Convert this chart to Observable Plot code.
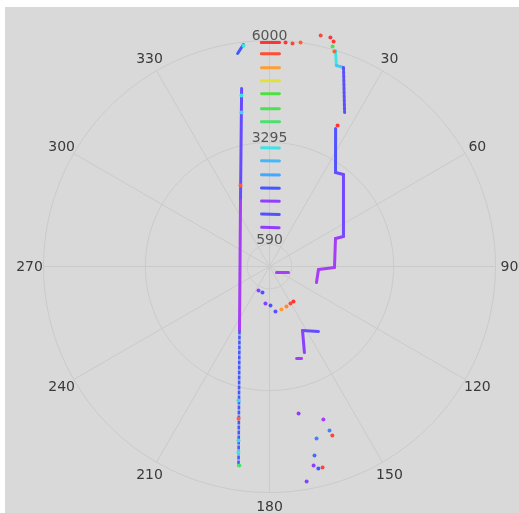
<!DOCTYPE html>
<html><head><meta charset="utf-8">
<script src="https://cdn.jsdelivr.net/npm/d3@7"></script>
<script src="https://cdn.jsdelivr.net/npm/@observablehq/plot@0.6"></script>
<style>
html,body{margin:0;padding:0;background:#fff;}
#chart{position:absolute;left:5px;top:7px;width:514px;height:506px;background:#d9d9d9;overflow:hidden}
#chart svg{filter:blur(0.45px)}
</style></head><body><div id="chart"></div>
<script>
// ---- data: bearing (deg, clockwise from north), range (mm), tone (0 = red ... 1 = violet)
const ringTicks = [590, 3295, 6000];
const angleTicks = [30, 60, 90, 120, 150, 180, 210, 240, 270, 300, 330];

// straight-ahead short returns
const stripeRange = [5950, 5655, 5283, 4938, 4593, 4195, 3850, 3159, 2814, 2443, 2097, 1752, 1407, 1062];
const stripeFrom  = [357.9, 357.8, 357.7, 357.5, 357.4, 357.1, 356.8, 356.2, 355.7, 355.0, 354.2, 353.1, 351.4, 348.7];
const stripeTo    = [2.6, 2.7, 2.9, 3.1, 3.3, 3.6, 4.0, 4.8, 5.4, 6.2, 7.2, 8.6, 10.7, 14.0];
const stripeTone  = [0.0, 0.03, 0.13, 0.26, 0.40, 0.42, 0.45, 0.58, 0.64, 0.66, 0.78, 0.92, 0.80, 0.92];

// left wall polyline
const wallBearing = [351.1, 336.3, 205.1, 188.8];
const wallRange   = [4784, 1914, 1877, 5374];
const wallTone    = [0.84, 0.97, 0.78];

// right stepped wall polyline
const stepBearing = [25.6, 35.1, 38.8, 67.9, 67.0, 90.9, 93.5, 108.8];
const stepRange   = [4062, 3050, 3135, 2120, 1904, 1726, 1303, 1318];
const stepTone    = [0.80, 0.84, 0.86, 0.92, 0.97, 0.97, 0.97];

// far right upper polyline
const farBearing = [17.0, 18.4, 20.4, 26.0];
const farRange   = [5997, 5625, 5637, 4548];
const farTone    = [0.58, 0.62, 0.82];

// small segments
const segBearing1 = [351.5, 130.6, 143.0, 152.7, 160.8];
const segRange1   = [5719, 245, 2161, 1912, 2586];
const segBearing2 = [353.3, 107.5, 152.7, 157.9, 163.6];
const segRange2   = [5934, 529, 1912, 2465, 2546];
const segTone     = [0.78, 0.97, 0.84, 0.9, 0.95];

// isolated returns
const dotBearing = [4.1, 5.9, 7.9, 12.5, 14.9, 15.9, 16.0, 16.8, 25.8, 353.3,
  204.6, 195.1, 186.2, 178.5, 172.4, 164.4, 157.0, 150.4, 145.6,
  168.8, 160.6, 159.9, 159.6, 164.7, 166.6, 167.5, 166.4, 165.2, 170.2,
  350.7, 349.7, 340.3, 193.0, 191.5, 190.1, 189.5, 188.6];
const dotRange = [5963, 5952, 6003, 6281, 6292, 6211, 6075, 5963, 4156, 5900,
  701, 715, 988, 1036, 1205, 1185, 1154, 1129, 1126,
  3978, 4307, 4637, 4789, 4734, 5158, 5411, 5519, 5519, 5792,
  4601, 4154, 2284, 3652, 4118, 4692, 5007, 5343];
const dotTone = [0.0, 0.02, 0.05, 0.02, 0.0, 0.0, 0.42, 0.05, 0.0, 0.58,
  0.9, 0.78, 0.88, 0.8, 0.82, 0.12, 0.1, 0.02, 0.0,
  0.92, 0.97, 0.72, 0.02, 0.72, 0.75, 0.92, 0.78, 0.02, 0.88,
  0.58, 0.6, 0.05, 0.6, 0.05, 0.6, 0.58, 0.45];

// ---- helpers
const rad = d => d * Math.PI / 180;
const px = (b, r) => r * Math.sin(rad(b));
const py = (b, r) => r * Math.cos(rad(b));
const toSegs = (B, R, T) => T.map((t, i) => ({b1: B[i], r1: R[i], b2: B[i + 1], r2: R[i + 1], tone: t}));

const stripes = stripeRange.map((r, i) => ({b1: stripeFrom[i], r1: r, b2: stripeTo[i], r2: r, tone: stripeTone[i]}));
const wall = toSegs(wallBearing, wallRange, wallTone);
const step = toSegs(stepBearing, stepRange, stepTone);
const far = toSegs(farBearing, farRange, farTone);
const segs = segTone.map((t, i) => ({b1: segBearing1[i], r1: segRange1[i], b2: segBearing2[i], r2: segRange2[i], tone: t}));
const dots = dotTone.map((t, i) => ({b: dotBearing[i], r: dotRange[i], tone: t}));

const ringPts = ringTicks.flatMap(r => d3.range(0, 361, 2).map(a => ({r, a})));

const linkOpts = (extra) => Object.assign({
  x1: d => px(d.b1, d.r1), y1: d => py(d.b1, d.r1),
  x2: d => px(d.b2, d.r2), y2: d => py(d.b2, d.r2),
  stroke: "tone", strokeWidth: 3, strokeLinecap: "round"
}, extra || {});

const chart = Plot.plot({
  width: 514, height: 506, margin: 0,
  x: {domain: [-7009, 6638], range: [0, 514], axis: null},
  y: {domain: [-6558, 6876], range: [506, 0], axis: null},
  color: {type: "linear", domain: [0, 0.12, 0.25, 0.4, 0.58, 0.66, 0.78, 0.9, 1],
          range: ["#ff3434", "#ff9a33", "#e8e23a", "#4fe040", "#3fe3e6", "#45a8ff", "#4458ff", "#8a40ff", "#b43cf2"]},
  style: {background: "transparent", fontFamily: "DejaVu Sans, sans-serif"},
  marks: [
    Plot.line(ringPts, {x: d => px(d.a, d.r), y: d => py(d.a, d.r), z: "r", stroke: "#cacaca", strokeWidth: 1}),
    Plot.link(d3.range(0, 360, 30), {x1: () => 0, y1: () => 0, x2: a => px(a, 6000), y2: a => py(a, 6000), stroke: "#cacaca", strokeWidth: 1}),
    Plot.link(stripes, linkOpts()),
    Plot.link(wall.slice(0, 2), linkOpts()),
    Plot.link(wall.slice(2), linkOpts({strokeWidth: 2.6, strokeDasharray: "4 1", strokeLinecap: "butt"})),
    Plot.link(step, linkOpts()),
    Plot.link(far, linkOpts({strokeDasharray: "2.5 1.5"})),
    Plot.link(segs, linkOpts()),
    Plot.dot(dots, {x: d => px(d.b, d.r), y: d => py(d.b, d.r), r: 2, fill: "tone", stroke: null}),
    Plot.text(angleTicks, {x: a => px(a, 6372), y: a => py(a, 6372), text: d => String(d), fontSize: 14, fill: "#3a3a3a"}),
    Plot.text(ringTicks, {x: () => 0, y: d => d, text: d => String(d), dy: -5, fontSize: 14, fill: "#555"})
  ]
});
document.getElementById("chart").appendChild(chart);
</script></body></html>
